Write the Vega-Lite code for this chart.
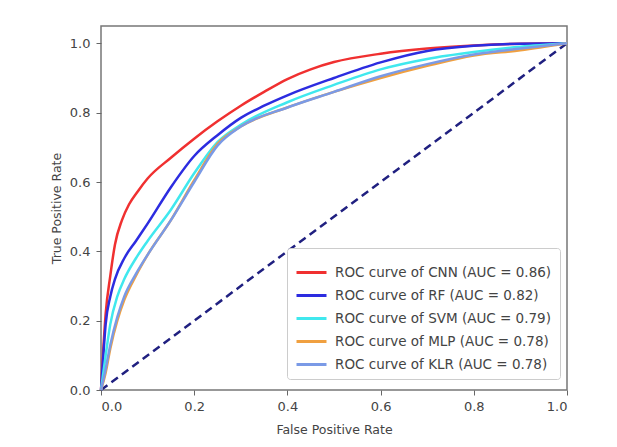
{
  "$schema": "https://vega.github.io/schema/vega-lite/v6.json",
  "autosize": "none",
  "width": 466,
  "height": 364,
  "padding": {"left": 101, "top": 26, "right": 50, "bottom": 57},
  "background": "white",
  "config": {
    "view": {"stroke": "#777", "strokeWidth": 1.5},
    "font": "DejaVu Sans",
    "axis": {"grid": false, "domain": false, "tickColor": "#666", "tickSize": 5, "labelPadding": 5, "labelColor": "#444", "labelFontSize": 13, "titleColor": "#444", "titleFontSize": 12.5, "titleFontWeight": "normal", "labelFont": "DejaVu Sans", "titleFont": "DejaVu Sans"}
  },
  "datasets": {
    "roc": [
      {"m": "ROC curve of CNN (AUC = 0.86)", "fpr": 0.0, "tpr": 0.0},
      {"m": "ROC curve of CNN (AUC = 0.86)", "fpr": 0.005, "tpr": 0.12},
      {"m": "ROC curve of CNN (AUC = 0.86)", "fpr": 0.01, "tpr": 0.22},
      {"m": "ROC curve of CNN (AUC = 0.86)", "fpr": 0.02, "tpr": 0.33},
      {"m": "ROC curve of CNN (AUC = 0.86)", "fpr": 0.03, "tpr": 0.42},
      {"m": "ROC curve of CNN (AUC = 0.86)", "fpr": 0.045, "tpr": 0.49},
      {"m": "ROC curve of CNN (AUC = 0.86)", "fpr": 0.06, "tpr": 0.535},
      {"m": "ROC curve of CNN (AUC = 0.86)", "fpr": 0.08, "tpr": 0.575},
      {"m": "ROC curve of CNN (AUC = 0.86)", "fpr": 0.1, "tpr": 0.61},
      {"m": "ROC curve of CNN (AUC = 0.86)", "fpr": 0.15, "tpr": 0.67},
      {"m": "ROC curve of CNN (AUC = 0.86)", "fpr": 0.2, "tpr": 0.725},
      {"m": "ROC curve of CNN (AUC = 0.86)", "fpr": 0.25, "tpr": 0.775},
      {"m": "ROC curve of CNN (AUC = 0.86)", "fpr": 0.3, "tpr": 0.82},
      {"m": "ROC curve of CNN (AUC = 0.86)", "fpr": 0.35, "tpr": 0.86},
      {"m": "ROC curve of CNN (AUC = 0.86)", "fpr": 0.4, "tpr": 0.897},
      {"m": "ROC curve of CNN (AUC = 0.86)", "fpr": 0.45, "tpr": 0.925},
      {"m": "ROC curve of CNN (AUC = 0.86)", "fpr": 0.5, "tpr": 0.946},
      {"m": "ROC curve of CNN (AUC = 0.86)", "fpr": 0.6, "tpr": 0.97},
      {"m": "ROC curve of CNN (AUC = 0.86)", "fpr": 0.7, "tpr": 0.985},
      {"m": "ROC curve of CNN (AUC = 0.86)", "fpr": 0.8, "tpr": 0.994},
      {"m": "ROC curve of CNN (AUC = 0.86)", "fpr": 0.9, "tpr": 0.999},
      {"m": "ROC curve of CNN (AUC = 0.86)", "fpr": 1.0, "tpr": 1.0},
      {"m": "ROC curve of RF (AUC = 0.82)", "fpr": 0.0, "tpr": 0.0},
      {"m": "ROC curve of RF (AUC = 0.82)", "fpr": 0.005, "tpr": 0.1},
      {"m": "ROC curve of RF (AUC = 0.82)", "fpr": 0.01, "tpr": 0.19},
      {"m": "ROC curve of RF (AUC = 0.82)", "fpr": 0.02, "tpr": 0.27},
      {"m": "ROC curve of RF (AUC = 0.82)", "fpr": 0.03, "tpr": 0.32},
      {"m": "ROC curve of RF (AUC = 0.82)", "fpr": 0.05, "tpr": 0.38},
      {"m": "ROC curve of RF (AUC = 0.82)", "fpr": 0.075, "tpr": 0.43},
      {"m": "ROC curve of RF (AUC = 0.82)", "fpr": 0.1, "tpr": 0.48},
      {"m": "ROC curve of RF (AUC = 0.82)", "fpr": 0.15, "tpr": 0.585},
      {"m": "ROC curve of RF (AUC = 0.82)", "fpr": 0.2, "tpr": 0.675},
      {"m": "ROC curve of RF (AUC = 0.82)", "fpr": 0.25, "tpr": 0.735},
      {"m": "ROC curve of RF (AUC = 0.82)", "fpr": 0.3, "tpr": 0.785},
      {"m": "ROC curve of RF (AUC = 0.82)", "fpr": 0.35, "tpr": 0.82},
      {"m": "ROC curve of RF (AUC = 0.82)", "fpr": 0.4, "tpr": 0.85},
      {"m": "ROC curve of RF (AUC = 0.82)", "fpr": 0.5, "tpr": 0.9},
      {"m": "ROC curve of RF (AUC = 0.82)", "fpr": 0.6, "tpr": 0.945},
      {"m": "ROC curve of RF (AUC = 0.82)", "fpr": 0.7, "tpr": 0.978},
      {"m": "ROC curve of RF (AUC = 0.82)", "fpr": 0.8, "tpr": 0.993},
      {"m": "ROC curve of RF (AUC = 0.82)", "fpr": 0.9, "tpr": 0.999},
      {"m": "ROC curve of RF (AUC = 0.82)", "fpr": 1.0, "tpr": 1.0},
      {"m": "ROC curve of SVM (AUC = 0.79)", "fpr": 0.0, "tpr": 0.0},
      {"m": "ROC curve of SVM (AUC = 0.79)", "fpr": 0.01, "tpr": 0.1},
      {"m": "ROC curve of SVM (AUC = 0.79)", "fpr": 0.02, "tpr": 0.19},
      {"m": "ROC curve of SVM (AUC = 0.79)", "fpr": 0.035, "tpr": 0.27},
      {"m": "ROC curve of SVM (AUC = 0.79)", "fpr": 0.05, "tpr": 0.32},
      {"m": "ROC curve of SVM (AUC = 0.79)", "fpr": 0.075, "tpr": 0.38},
      {"m": "ROC curve of SVM (AUC = 0.79)", "fpr": 0.1, "tpr": 0.43},
      {"m": "ROC curve of SVM (AUC = 0.79)", "fpr": 0.15, "tpr": 0.52},
      {"m": "ROC curve of SVM (AUC = 0.79)", "fpr": 0.2, "tpr": 0.625},
      {"m": "ROC curve of SVM (AUC = 0.79)", "fpr": 0.25, "tpr": 0.715},
      {"m": "ROC curve of SVM (AUC = 0.79)", "fpr": 0.3, "tpr": 0.765},
      {"m": "ROC curve of SVM (AUC = 0.79)", "fpr": 0.4, "tpr": 0.83},
      {"m": "ROC curve of SVM (AUC = 0.79)", "fpr": 0.5, "tpr": 0.88},
      {"m": "ROC curve of SVM (AUC = 0.79)", "fpr": 0.6, "tpr": 0.925},
      {"m": "ROC curve of SVM (AUC = 0.79)", "fpr": 0.7, "tpr": 0.955},
      {"m": "ROC curve of SVM (AUC = 0.79)", "fpr": 0.8, "tpr": 0.975},
      {"m": "ROC curve of SVM (AUC = 0.79)", "fpr": 0.9, "tpr": 0.99},
      {"m": "ROC curve of SVM (AUC = 0.79)", "fpr": 1.0, "tpr": 1.0},
      {"m": "ROC curve of MLP (AUC = 0.78)", "fpr": 0.0, "tpr": 0.0},
      {"m": "ROC curve of MLP (AUC = 0.78)", "fpr": 0.01, "tpr": 0.05},
      {"m": "ROC curve of MLP (AUC = 0.78)", "fpr": 0.02, "tpr": 0.12},
      {"m": "ROC curve of MLP (AUC = 0.78)", "fpr": 0.035, "tpr": 0.2},
      {"m": "ROC curve of MLP (AUC = 0.78)", "fpr": 0.05, "tpr": 0.26},
      {"m": "ROC curve of MLP (AUC = 0.78)", "fpr": 0.075, "tpr": 0.33},
      {"m": "ROC curve of MLP (AUC = 0.78)", "fpr": 0.1, "tpr": 0.39},
      {"m": "ROC curve of MLP (AUC = 0.78)", "fpr": 0.15, "tpr": 0.49},
      {"m": "ROC curve of MLP (AUC = 0.78)", "fpr": 0.2, "tpr": 0.605},
      {"m": "ROC curve of MLP (AUC = 0.78)", "fpr": 0.25, "tpr": 0.71},
      {"m": "ROC curve of MLP (AUC = 0.78)", "fpr": 0.3, "tpr": 0.76},
      {"m": "ROC curve of MLP (AUC = 0.78)", "fpr": 0.4, "tpr": 0.815},
      {"m": "ROC curve of MLP (AUC = 0.78)", "fpr": 0.5, "tpr": 0.86},
      {"m": "ROC curve of MLP (AUC = 0.78)", "fpr": 0.6, "tpr": 0.9},
      {"m": "ROC curve of MLP (AUC = 0.78)", "fpr": 0.7, "tpr": 0.935},
      {"m": "ROC curve of MLP (AUC = 0.78)", "fpr": 0.8, "tpr": 0.965},
      {"m": "ROC curve of MLP (AUC = 0.78)", "fpr": 0.9, "tpr": 0.98},
      {"m": "ROC curve of MLP (AUC = 0.78)", "fpr": 1.0, "tpr": 1.0},
      {"m": "ROC curve of KLR (AUC = 0.78)", "fpr": 0.0, "tpr": 0.0},
      {"m": "ROC curve of KLR (AUC = 0.78)", "fpr": 0.01, "tpr": 0.06},
      {"m": "ROC curve of KLR (AUC = 0.78)", "fpr": 0.02, "tpr": 0.13},
      {"m": "ROC curve of KLR (AUC = 0.78)", "fpr": 0.035, "tpr": 0.21},
      {"m": "ROC curve of KLR (AUC = 0.78)", "fpr": 0.05, "tpr": 0.27},
      {"m": "ROC curve of KLR (AUC = 0.78)", "fpr": 0.075, "tpr": 0.335},
      {"m": "ROC curve of KLR (AUC = 0.78)", "fpr": 0.1, "tpr": 0.39},
      {"m": "ROC curve of KLR (AUC = 0.78)", "fpr": 0.15, "tpr": 0.49},
      {"m": "ROC curve of KLR (AUC = 0.78)", "fpr": 0.2, "tpr": 0.6},
      {"m": "ROC curve of KLR (AUC = 0.78)", "fpr": 0.25, "tpr": 0.705},
      {"m": "ROC curve of KLR (AUC = 0.78)", "fpr": 0.3, "tpr": 0.76},
      {"m": "ROC curve of KLR (AUC = 0.78)", "fpr": 0.4, "tpr": 0.815},
      {"m": "ROC curve of KLR (AUC = 0.78)", "fpr": 0.5, "tpr": 0.86},
      {"m": "ROC curve of KLR (AUC = 0.78)", "fpr": 0.6, "tpr": 0.905},
      {"m": "ROC curve of KLR (AUC = 0.78)", "fpr": 0.7, "tpr": 0.94},
      {"m": "ROC curve of KLR (AUC = 0.78)", "fpr": 0.8, "tpr": 0.968},
      {"m": "ROC curve of KLR (AUC = 0.78)", "fpr": 0.9, "tpr": 0.985},
      {"m": "ROC curve of KLR (AUC = 0.78)", "fpr": 1.0, "tpr": 1.0}
    ],
    "diag": [{"fpr": 0, "tpr": 0}, {"fpr": 1, "tpr": 1}]
  },
  "layer": [
    {
      "data": {"name": "diag"},
      "mark": {"type": "line", "color": "#202080", "strokeWidth": 2.5, "strokeDash": [8, 5]},
      "encoding": {
        "x": {"field": "fpr", "type": "quantitative", "scale": {"domain": [0, 1], "nice": false}, "axis": {"title": "False Positive Rate", "values": [0, 0.2, 0.4, 0.6, 0.8, 1.0], "format": ".1f", "titlePadding": 10}},
        "y": {"field": "tpr", "type": "quantitative", "scale": {"domain": [0, 1.05], "nice": false}, "axis": {"title": "True Positive Rate", "values": [0, 0.2, 0.4, 0.6, 0.8, 1.0], "format": ".1f", "titlePadding": 6, "labelPadding": 6}}
      }
    },
    {
      "data": {"name": "roc"},
      "mark": {"type": "line", "strokeWidth": 2.5, "interpolate": "monotone"},
      "encoding": {
        "x": {"field": "fpr", "type": "quantitative"},
        "y": {"field": "tpr", "type": "quantitative"},
        "color": {
          "field": "m", "type": "nominal",
          "scale": {
            "domain": ["ROC curve of CNN (AUC = 0.86)", "ROC curve of RF (AUC = 0.82)", "ROC curve of SVM (AUC = 0.79)", "ROC curve of MLP (AUC = 0.78)", "ROC curve of KLR (AUC = 0.78)"],
            "range": ["#f03030", "#2c2ce0", "#40e8ee", "#f0a040", "#7a9ae6"]
          },
          "legend": {
            "title": null, "orient": "none", "legendX": 186, "legendY": 222,
            "symbolType": "stroke", "symbolSize": 900, "symbolStrokeWidth": 3,
            "labelFontSize": 13.5, "labelColor": "#444", "labelFont": "DejaVu Sans", "labelOffset": 7,
            "rowPadding": -6, "padding": 8, "strokeColor": "#ccc", "fillColor": "white", "cornerRadius": 3, "labelLimit": 300
          }
        },
        "order": {"field": "fpr"}
      }
    }
  ]
}
